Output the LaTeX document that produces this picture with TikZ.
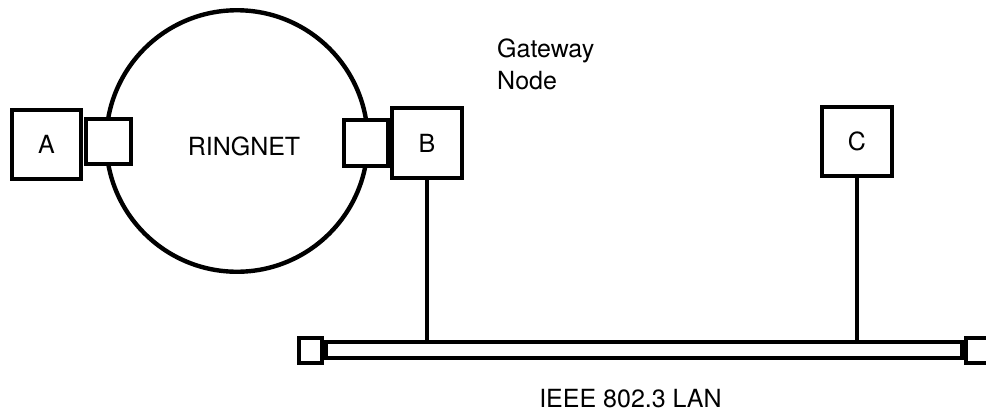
\documentclass[tikz,border=0pt]{standalone}
\usepackage{fontspec}
\setmainfont{TeX Gyre Heros}
\usetikzlibrary{positioning,calc}
\tikzset{
  box/.style={draw, line width=4.4pt, fill=white, minimum size=69.5pt, inner sep=0pt},
  ifbox/.style={draw, line width=4.4pt, fill=white, minimum width=44.5pt, minimum height=45.5pt, inner sep=0pt},
  endbox/.style={draw, line width=4pt, fill=white, minimum width=23pt, minimum height=25pt, inner sep=0pt},
  lbl/.style={font=\fontsize{25}{32}\selectfont, inner sep=0pt},
  link/.style={line width=3.8pt}
}

\begin{document}
\begin{tikzpicture}[x=1pt,y=-1pt]
  \useasboundingbox (0,0) rectangle (986,418);
  % ring and its stations
  \node[draw, circle, line width=4.4pt, minimum size=261.5pt] (ring) at (237,141) {};
  \node[lbl] (ringlbl) at (244,146) {RINGNET};
  \node[ifbox] (ai) at (108.5,141.5) {};
  \node[box, lbl] (A) at (46.5,144.5) {A};
  \node[ifbox] (bi) at (366,143) {};
  \node[box, lbl] (B) at (427,143) {B};
  \node[lbl, align=left, anchor=north west] (gw) at (497,39) {Gateway\\Node};
  % the LAN bus
  \node[draw, line width=4pt, minimum width=636pt, minimum height=16pt, inner sep=0pt] (lan) at (644,350) {};
  \node[endbox, anchor=east] (lanl) at (lan.west) {};
  \node[endbox, anchor=west] (lanr) at (lan.east) {};
  \node[lbl, anchor=base] (lanlbl) at (630.5,407) {IEEE 802.3 LAN};
  \node[box, lbl] (C) at (857,141.5) {C};
  \draw[link] (B.south) -- (B.south |- lan.north);
  \draw[link] (C.south) -- (C.south |- lan.north);
\end{tikzpicture}
\end{document}
